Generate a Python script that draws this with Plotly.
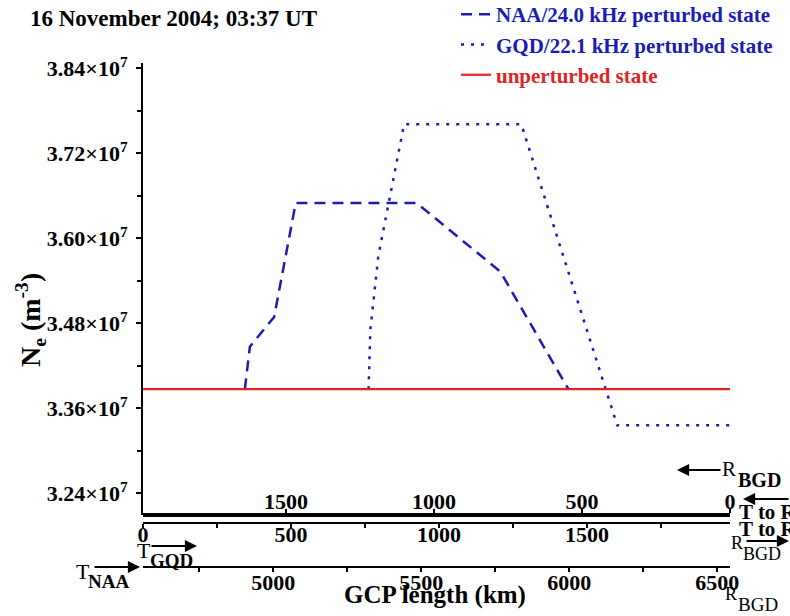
import plotly.graph_objects as go

# Distance along the GQD path (km) and electron density (m^-3)
naa_x = [344, 361, 443, 516, 924, 1207, 1437]
naa_ne = [3.387e7, 3.447e7, 3.489e7, 3.650e7, 3.650e7, 3.553e7, 3.387e7]

gqd_x = [762, 768, 795, 829, 882, 1278, 1602, 1983]
gqd_ne = [3.387e7, 3.4705e7, 3.575e7, 3.649e7, 3.761e7, 3.761e7, 3.336e7, 3.336e7]

base_x = [0, 1983]
base_ne = [3.387e7, 3.387e7]

# Axis ticks
ne_ticks = [3.24e7, 3.36e7, 3.48e7, 3.60e7, 3.72e7, 3.84e7]
ne_ticktext = ["3.24×10<sup>7</sup>", "3.36×10<sup>7</sup>", "3.48×10<sup>7</sup>",
               "3.60×10<sup>7</sup>", "3.72×10<sup>7</sup>", "3.84×10<sup>7</sup>"]
ne_minor = [3.30e7, 3.42e7, 3.54e7, 3.66e7, 3.78e7]
path_len = 1983          # km, GQD -> BGD
gcp_offset = 4560        # km, GCP length at the GQD end
rbgd_ticks = [1500, 1000, 500, 0]
tgqd_ticks = [0, 500, 1000, 1500]
tgqd_minor = [250, 750, 1250, 1750]
gcp_ticks = [5000, 5500, 6000, 6500]
gcp_minor = [4750, 5250, 5750, 6250]

W, H = 790, 616
ML, MR, MT, MB = 143, 60, 63, 49
PW, PH = W - ML - MR, H - MT - MB


def fx(px):
    return (px - ML) / PW


def fy(py):
    return (H - MB - py) / PH


SERIF = "Liberation Serif"
BLUE = "#1c1cb4"
RED = "#e02424"

fig = go.Figure()
fig.add_trace(go.Scatter(
    x=naa_x, y=naa_ne, mode="lines",
    name=f"<span style='color:{BLUE}'>NAA/24.0 kHz perturbed state</span>",
    line=dict(color=BLUE, width=2.5, dash="11px,7px")))
fig.add_trace(go.Scatter(
    x=gqd_x, y=gqd_ne, mode="lines",
    name=f"<span style='color:{BLUE}'>GQD/22.1 kHz perturbed state</span>",
    line=dict(color=BLUE, width=2.5, dash="3px,7px")))
fig.add_trace(go.Scatter(
    x=base_x, y=base_ne, mode="lines",
    name=f"<span style='color:{RED}'>unperturbed state</span>",
    line=dict(color=RED, width=2.2)))

# the baseline referenced on the three path-distance scales, so each scale is drawn
for ax_name, xs in (("x2", [path_len - v for v in base_x]),
                    ("x3", base_x),
                    ("x4", [v + gcp_offset for v in base_x])):
    fig.add_trace(go.Scatter(x=xs, y=base_ne, xaxis=ax_name, yaxis="y",
                             mode="lines", line=dict(width=0, color="rgba(0,0,0,0)"),
                             showlegend=False, hoverinfo="skip"))

tickfont = dict(family=SERIF, size=22, color="black", weight="bold")

common = dict(showgrid=False, zeroline=False, linecolor="black", tickcolor="black",
              ticks="outside", ticklen=4, tickwidth=2, tickfont=tickfont,
              tickmode="array", overlaying="x", anchor="free", automargin=False)

fig.update_layout(
    width=W, height=H, autosize=False,
    margin=dict(l=ML, r=MR, t=MT, b=MB, pad=0, autoexpand=False),
    paper_bgcolor="white", plot_bgcolor="white",
    showlegend=True,
    legend=dict(x=fx(456), y=fy(-6), xanchor="left", yanchor="top",
                bgcolor="rgba(0,0,0,0)", tracegroupgap=0,
                font=dict(family=SERIF, size=21, weight="bold")),
    xaxis=dict(range=[0, path_len], visible=False, showgrid=False, zeroline=False),
    yaxis=dict(range=[3.2094e7, 3.8475e7], domain=[fy(515), 1], automargin=False,
               showgrid=False, zeroline=False, showline=True, linecolor="black",
               linewidth=2, ticks="outside", ticklen=5, tickwidth=2,
               tickcolor="black", tickmode="array", tickvals=ne_ticks,
               ticktext=ne_ticktext, tickfont=tickfont, ticklabelstandoff=4,
               minor=dict(tickvals=ne_minor, ticks="outside", ticklen=4,
                          tickwidth=2, tickcolor="black")),
    # distance to the receiver R_BGD (reversed)
    xaxis2=dict(range=[path_len, 0], position=fy(515), side="top",
                showline=True, linewidth=3.5, tickvals=rbgd_ticks,
                ticklabelstandoff=-9, **common),
    # distance from the transmitter T_GQD
    xaxis3=dict(range=[0, path_len], position=fy(522.5), side="bottom",
                showline=True, linewidth=2, tickvals=tgqd_ticks,
                ticklabelstandoff=-12,
                minor=dict(tickvals=tgqd_minor, ticks="outside", ticklen=4,
                           tickwidth=2, tickcolor="black"), **common),
    # great-circle path length from the transmitter T_NAA
    xaxis4=dict(range=[gcp_offset, gcp_offset + path_len], position=0,
                side="bottom", showline=True, linewidth=2, tickvals=gcp_ticks,
                ticklabelstandoff=-8,
                minor=dict(tickvals=gcp_minor, ticks="outside", ticklen=4,
                           tickwidth=2, tickcolor="black"), **common),
)


def label(px, py, text, size=20, bold=True, anchor="center", angle=0):
    fig.add_annotation(
        x=fx(px), y=fy(py), xref="paper", yref="paper", text=text,
        showarrow=False, xanchor=anchor, yanchor="middle", textangle=angle,
        font=dict(family=SERIF, size=size, color="black",
                  weight="bold" if bold else "normal"))


def arrow(x_tail, x_tip, py):
    fig.add_annotation(
        x=fx(x_tip), y=fy(py), xref="paper", yref="paper", text="",
        showarrow=True, ax=x_tail - x_tip, ay=0, axref="pixel", ayref="pixel",
        arrowhead=2, arrowsize=1.1, arrowwidth=2.2, arrowcolor="black",
        standoff=0, startstandoff=0)


label(28, 18, "16 November 2004; 03:37 UT", size=23, anchor="left")
label(30, 320, "N<sub>e</sub> (m<sup>-3</sup>)", size=28, angle=-90)
label(435, 595, "GCP length (km)", size=25)

# transmitter / receiver markers
label(144, 550, "T", size=22, bold=False)
label(171, 560, "GQD", size=19)
arrow(150, 197, 546)
label(83, 571, "T", size=22, bold=False)
label(108, 581, "NAA", size=19)
arrow(93, 140, 567)

label(729, 469, "R", size=21, bold=False)
label(759, 480, "BGD", size=20)
arrow(722, 677, 470)

label(737, 512, "T to R", size=21, anchor="left")
label(737, 529, "T to R", size=21, anchor="left")
arrow(795, 743, 499)
label(737, 543, "R", size=18, bold=False)
label(762, 554, "BGD", size=18, bold=False)
arrow(745, 792, 541)
label(731, 594, "R", size=18, bold=False)
label(758, 604, "BGD", size=19, bold=False)

fig.write_html("out.html")
